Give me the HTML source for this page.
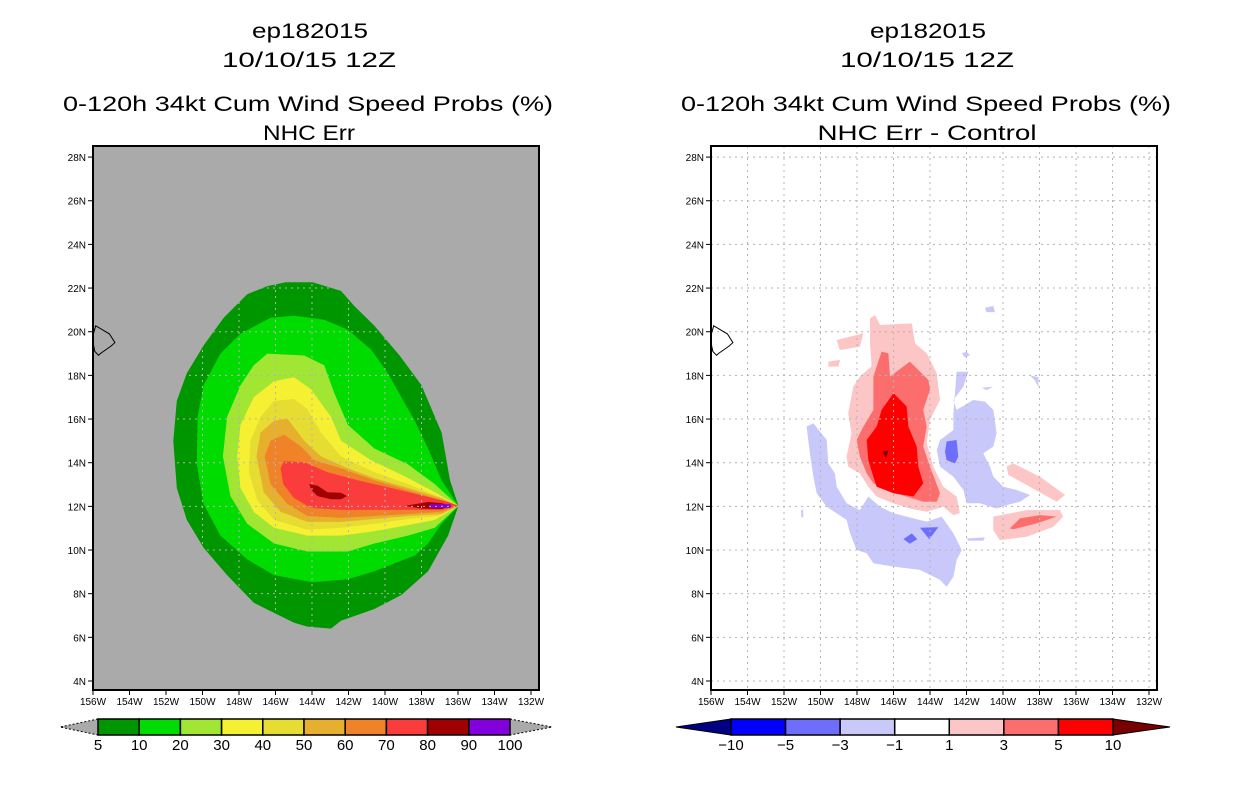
<!DOCTYPE html>
<html><head><meta charset="utf-8"><style>
html,body{margin:0;padding:0;background:#fff;}
svg{display:block;font-family:"Liberation Sans",sans-serif;}
</style></head><body>
<svg id="fig" width="1236" height="800" viewBox="0 0 1236 800">
<defs>
<clipPath id="clipL"><rect x="93" y="146" width="446" height="544"/></clipPath>
<clipPath id="clipR"><rect x="711" y="146" width="446" height="544"/></clipPath>
</defs>
<g font-size="21" text-anchor="middle" fill="#000">
<text x="310" y="38" textLength="116" lengthAdjust="spacingAndGlyphs">ep182015</text>
<text x="309" y="67" textLength="174" lengthAdjust="spacingAndGlyphs">10/10/15 12Z</text>
<text x="308" y="111" textLength="490" lengthAdjust="spacingAndGlyphs">0-120h 34kt Cum Wind Speed Probs (%)</text>
<text x="309" y="140" textLength="92" lengthAdjust="spacingAndGlyphs">NHC Err</text>
</g>
<g font-size="21" text-anchor="middle" fill="#000">
<text x="928" y="38" textLength="116" lengthAdjust="spacingAndGlyphs">ep182015</text>
<text x="927" y="67" textLength="174" lengthAdjust="spacingAndGlyphs">10/10/15 12Z</text>
<text x="926" y="111" textLength="490" lengthAdjust="spacingAndGlyphs">0-120h 34kt Cum Wind Speed Probs (%)</text>
<text x="927" y="140" textLength="219" lengthAdjust="spacingAndGlyphs">NHC Err - Control</text>
</g>
<g id="left"></g>
<g id="right"></g>
<g id="cbars"></g>
</svg>
<script>
// ---- data ----
const lonTicks=[156,154,152,150,148,146,144,142,140,138,136,134,132];
const latTicks=[4,6,8,10,12,14,16,18,20,22,24,26,28];
const leftLevels=[5,10,20,30,40,50,60,70,80,90,100];
const leftColors=["#009600","#00dc00","#a0e632","#f6f032","#e6dc32","#e6af2d","#f08228","#fa3c3c","#a00000","#8200dc"];
const rightLevels=[-10,-5,-3,-1,1,3,5,10];
const rightColors=["#0000ff","#6e6efc","#c8c8fa","#ffffff","#fcc6c6","#fc6e6e","#ff0000"];
const hawaii=[[-155.85,20.27],[-155.7,20.2],[-155.1,19.9],[-154.8,19.5],[-155.0,19.35],[-155.6,19.0],[-155.7,18.92],[-155.9,19.1],[-156.05,19.7]];
const prob5=[[-145.44,22.27],[-143.97,22.27],[-142.41,21.87],[-141.68,21.18],[-140.58,20.27],[-139.2,18.91],[-138.0,17.55],[-136.9,15.38],[-136.44,13.2],[-135.98,12.02],[-136.54,10.66],[-137.64,9.03],[-139.1,7.94],[-140.58,7.3],[-142.41,6.76],[-142.96,6.4],[-144.25,6.49],[-144.98,6.67],[-146.08,7.12],[-147.19,7.58],[-148.65,8.85],[-149.94,10.1],[-150.86,11.38],[-151.41,12.84],[-151.6,15.0],[-151.41,16.83],[-150.86,18.1],[-149.94,19.37],[-148.84,20.64],[-147.55,21.72],[-146.45,22.09]];
const prob10=[[-146.27,20.64],[-144.98,20.73],[-143.33,20.55],[-142.04,20.09],[-140.76,19.18],[-139.84,18.1],[-139.1,17.0],[-138.37,15.92],[-137.64,14.65],[-136.9,13.2],[-135.98,12.02],[-136.9,11.2],[-137.64,10.3],[-138.37,9.75],[-140.58,9.03],[-142.04,8.66],[-143.97,8.52],[-146.08,8.85],[-147.55,9.57],[-149.02,10.66],[-149.94,12.11],[-150.31,13.92],[-150.27,16.1],[-149.94,17.55],[-149.02,19.0],[-147.92,19.91]];
const prob20=[[-146.45,19.0],[-144.43,18.91],[-143.33,18.46],[-142.78,17.19],[-142.04,15.74],[-140.58,14.65],[-138.74,13.92],[-137.27,13.02],[-135.98,12.02],[-137.27,11.02],[-138.74,10.66],[-140.58,10.3],[-142.04,9.93],[-144.25,9.93],[-146.08,10.3],[-147.55,11.2],[-148.47,12.47],[-148.88,14.29],[-148.65,16.1],[-147.92,17.55],[-147.19,18.46]];
const prob30=[[-146.08,17.73],[-144.98,17.91],[-144.06,17.37],[-142.96,16.1],[-142.41,15.01],[-140.76,14.11],[-138.92,13.38],[-137.27,12.65],[-135.98,12.02],[-137.27,11.38],[-138.92,11.11],[-140.76,10.84],[-142.41,10.66],[-144.25,10.66],[-146.08,11.02],[-147.19,11.75],[-147.92,12.84],[-148.1,14.29],[-147.92,15.74],[-147.19,17.0]];
const prob40=[[-146.08,16.83],[-144.98,16.92],[-144.25,16.46],[-143.51,15.38],[-142.41,14.29],[-140.58,13.56],[-138.74,13.02],[-137.09,12.47],[-135.98,12.02],[-137.09,11.56],[-138.74,11.42],[-140.58,11.2],[-142.41,11.02],[-144.25,10.93],[-146.08,11.38],[-147.0,12.29],[-147.46,13.56],[-147.37,15.01],[-146.82,16.1]];
const prob50=[[-146.08,15.92],[-145.35,16.01],[-144.43,15.01],[-143.51,14.29],[-142.04,13.74],[-140.58,13.29],[-138.74,12.84],[-136.9,12.38],[-135.98,12.02],[-136.9,11.65],[-138.74,11.56],[-140.58,11.42],[-142.41,11.29],[-144.25,11.29],[-145.72,11.75],[-146.64,12.65],[-147.04,14.29],[-146.82,15.38]];
const prob60=[[-145.53,15.28],[-144.61,14.74],[-143.88,14.11],[-142.41,13.74],[-140.58,13.2],[-138.74,12.74],[-136.9,12.29],[-135.98,12.02],[-136.9,11.75],[-138.74,11.65],[-140.58,11.56],[-142.41,11.47],[-144.25,11.56],[-145.35,12.11],[-146.27,13.02],[-146.6,14.29],[-146.27,15.01]];
const prob70=[[-145.53,14.07],[-144.43,14.02],[-143.15,13.56],[-141.5,13.2],[-139.66,12.84],[-137.82,12.47],[-136.54,12.2],[-135.98,12.02],[-136.9,11.84],[-138.74,11.84],[-140.58,11.84],[-142.41,11.84],[-144.06,11.93],[-144.98,12.38],[-145.57,13.02],[-145.72,13.74]];
const prob80a=[[-144.16,13.02],[-143.7,12.95],[-143.15,12.65],[-142.41,12.62],[-142.08,12.47],[-142.41,12.33],[-142.96,12.33],[-143.7,12.47],[-144.03,12.75]];
const prob80b=[[-138.92,12.02],[-137.64,12.2],[-136.9,12.15],[-136.35,12.02],[-136.9,11.88],[-138.0,11.9]];
const prob90=[[-137.55,12.1],[-136.4,12.1],[-136.4,11.93],[-137.55,11.93]];
const diffPink=[[-147.29,20.61],[-147.01,20.76],[-146.74,20.31],[-145.0,20.38],[-144.82,19.47],[-144.18,19.01],[-143.63,18.1],[-143.45,16.87],[-144.0,15.96],[-144.18,14.89],[-143.82,13.82],[-143.27,12.9],[-142.54,12.45],[-142.36,11.69],[-142.72,11.6],[-143.27,11.98],[-144.18,11.75],[-145.1,11.9],[-146.0,12.13],[-146.92,12.45],[-147.38,12.9],[-147.84,13.51],[-148.48,13.82],[-148.57,14.28],[-148.3,15.35],[-148.48,16.26],[-148.2,17.49],[-147.84,17.95],[-147.2,18.41],[-147.29,19.47]];
const diffPink2=[[-149.11,19.62],[-147.65,19.93],[-147.84,19.32],[-148.94,19.16]];
const diffPink3=[[-149.57,18.63],[-148.93,18.71],[-149.02,18.4],[-149.57,18.4]];
const diffPink4=[[-139.8,13.82],[-139.43,13.97],[-137.97,13.36],[-136.6,12.52],[-137.06,12.21],[-138.7,12.98],[-139.71,13.44]];
const diffPink5=[[-140.53,11.53],[-138.7,11.83],[-136.88,11.83],[-136.7,11.53],[-137.24,11.07],[-138.7,10.61],[-140.17,10.45],[-140.53,10.91]];
const diffMed=[[-147.1,17.95],[-146.65,19.09],[-146.28,19.01],[-146.19,17.95],[-145.1,18.63],[-144.09,17.79],[-144.0,17.34],[-144.37,16.42],[-144.18,15.66],[-144.37,14.74],[-144.0,13.82],[-143.45,12.6],[-143.63,12.21],[-144.37,12.21],[-145.28,12.45],[-146.19,12.67],[-147.1,13.05],[-147.47,13.51],[-147.84,14.28],[-148.02,15.04],[-147.65,15.66],[-147.1,16.42],[-147.1,17.19]];
const diffMed2=[[-139.62,10.99],[-139.07,11.45],[-137.97,11.6],[-137.06,11.53],[-138.16,11.22],[-139.44,10.95]];
const diffRed=[[-146.0,17.19],[-145.28,16.58],[-145.19,15.66],[-144.73,14.74],[-144.64,13.82],[-144.37,13.05],[-144.91,12.45],[-146.0,12.6],[-146.92,12.9],[-147.1,13.36],[-147.38,14.12],[-147.47,15.04],[-146.92,15.66],[-146.65,16.42]];
const diffDark=[[-146.59,14.5],[-146.28,14.58],[-146.41,14.2]];
const diffBlueA=[[-150.76,15.66],[-150.39,15.81],[-149.66,15.04],[-149.57,13.97],[-149.21,13.51],[-149.11,12.9],[-148.57,12.14],[-147.84,11.83],[-147.38,12.45],[-146.74,11.98],[-146.0,11.68],[-144.91,11.45],[-144.18,11.3],[-143.36,11.53],[-142.72,10.76],[-142.26,10.0],[-142.54,9.54],[-142.72,8.78],[-143.09,8.32],[-143.45,8.63],[-144.55,9.09],[-146.0,9.24],[-147.1,9.39],[-147.47,9.85],[-148.02,10.0],[-148.38,10.76],[-148.57,11.38],[-149.66,11.98],[-150.21,12.6],[-150.39,13.36],[-150.58,14.43]];
const diffBlueB=[[-142.54,18.17],[-141.9,18.17],[-142.17,17.49],[-142.72,16.87],[-142.54,16.42],[-141.63,16.87],[-140.99,16.8],[-140.53,16.42],[-140.35,15.35],[-140.53,14.74],[-141.08,14.43],[-140.71,13.82],[-140.53,13.36],[-139.98,12.9],[-139.25,12.75],[-138.52,12.52],[-139.07,12.21],[-139.8,12.06],[-140.35,11.9],[-141.26,12.14],[-141.99,12.14],[-142.17,12.75],[-142.72,13.36],[-143.45,13.82],[-143.63,14.58],[-143.45,15.04],[-142.72,15.5],[-142.72,16.26]];
const diffBlueC=[[-141.17,17.43],[-140.53,17.48],[-140.9,17.33]];
const diffBlueD=[[-142.26,19.01],[-141.99,19.09],[-141.81,18.93],[-142.08,18.82]];
const diffBlueE=[[-140.99,21.1],[-140.53,21.18],[-140.44,20.9],[-140.9,20.9]];
const diffBlueF=[[-138.52,18.0],[-138.06,17.92],[-138.06,17.46],[-138.25,17.77]];
const diffBlueG=[[-141.99,10.53],[-140.99,10.58],[-141.08,10.43],[-141.9,10.43]];
const diffBlueH=[[-151.05,11.85],[-150.95,11.85],[-150.95,11.5],[-151.05,11.5]];
const diffMedBlue1=[[-143.09,14.97],[-142.54,15.04],[-142.45,14.28],[-142.63,13.97],[-143.09,14.12],[-143.18,14.5]];
const diffMedBlue2=[[-145.46,10.5],[-145.0,10.76],[-144.69,10.5],[-145.1,10.29]];
const diffMedBlue3=[[-144.55,11.02],[-143.54,11.05],[-144.04,10.49]];

// ---- rendering ----
const NS="http://www.w3.org/2000/svg";
function mk(tag,attrs,parent){const e=document.createElementNS(NS,tag);for(const k in attrs)e.setAttribute(k,attrs[k]);parent.appendChild(e);return e;}
function xOf(lon,off){return 93+off+(lon+156)*18.25;}
function yOf(lat){return 681-(lat-4)*21.83;}
function ptsStr(p,off){return p.map(q=>xOf(q[0],off).toFixed(1)+","+yOf(q[1]).toFixed(1)).join(" ");}

function poly(g,p,off,fill,name){
  const e=mk("polygon",{points:ptsStr(p,off),fill:fill},g);
  
  
  return e;
}
function gridlines(g,off,clip){
  const gg=mk("g",{stroke:"#b4b4b4","stroke-width":1,"stroke-dasharray":"2,4"},g);
  if(clip) gg.setAttribute("clip-path","url(#"+clip+")");
  
  
  lonTicks.forEach(l=>{const x=xOf(-l,off);mk("line",{x1:x,x2:x,y1:146,y2:690},gg);});
  latTicks.forEach(l=>{const y=yOf(l);mk("line",{x1:93+off,x2:539+off,y1:y,y2:y},gg);});
}
function axes(g,off){
  const ax=mk("g",{},g);
  
  
  lonTicks.forEach(l=>{const x=xOf(-l,off);
    mk("line",{x1:x,x2:x,y1:690,y2:695,stroke:"#000","stroke-width":1},ax);
    const t=mk("text",{x:x,y:705,"font-size":10,"text-anchor":"middle"},ax);t.textContent=l+"W";
    
    });
  latTicks.forEach(l=>{const y=yOf(l);
    mk("line",{x1:88+off,x2:93+off,y1:y,y2:y,stroke:"#000","stroke-width":1},ax);
    const t=mk("text",{x:86+off,y:y+4,"font-size":10,"text-anchor":"end"},ax);t.textContent=l+"N";
    
    });
  const f=mk("rect",{x:93+off,y:146,width:446,height:544,fill:"none",stroke:"#000","stroke-width":2},ax);
  
  
}
function coast(g,off,clip){
  const c=mk("polygon",{points:ptsStr(hawaii,off),fill:"none",stroke:"#000","stroke-width":1,"clip-path":"url(#"+clip+")"},g);
  
  
}

// left map
const gl=document.getElementById("left");
const bg=mk("rect",{x:93,y:146,width:446,height:544,fill:"#aaaaaa"},gl);


const leftSeries=[prob5,prob10,prob20,prob30,prob40,prob50,prob60,prob70];
leftSeries.forEach((p,i)=>poly(gl,p,0,leftColors[i],"prob-"+leftLevels[i]+"-contour"));
poly(gl,prob80a,0,leftColors[8],"prob-80-contour");
poly(gl,prob80b,0,leftColors[8],"prob-80-contour");
poly(gl,prob90,0,leftColors[9],"prob-90-contour");
// grid only over shaded area
const cp=mk("clipPath",{id:"clipShade"},document.querySelector("defs"));
mk("polygon",{points:ptsStr(prob5,0)},cp);
gridlines(gl,0,"clipShade");
coast(gl,0,"clipL");
axes(gl,0);

// right map
const gr=document.getElementById("right");
const OFF=618;
const rbg=mk("rect",{x:711,y:146,width:446,height:544,fill:"#fff"},gr);


[diffBlueA,diffBlueB,diffBlueC,diffBlueD,diffBlueE,diffBlueF,diffBlueG,diffBlueH].forEach(p=>poly(gr,p,OFF,rightColors[2],"diff-neg1-contour"));
[diffMedBlue1,diffMedBlue2,diffMedBlue3].forEach(p=>poly(gr,p,OFF,rightColors[1],"diff-neg3-contour"));
[diffPink,diffPink2,diffPink3,diffPink4,diffPink5].forEach(p=>poly(gr,p,OFF,rightColors[4],"diff-pos1-contour"));
[diffMed,diffMed2].forEach(p=>poly(gr,p,OFF,rightColors[5],"diff-pos3-contour"));
poly(gr,diffRed,OFF,rightColors[6],"diff-pos5-contour");
poly(gr,diffDark,OFF,"#780000","diff-pos10-contour");
gridlines(gr,OFF,"clipR");
coast(gr,OFF,"clipR");
axes(gr,OFF);

// colorbars
const cb=document.getElementById("cbars");
function colorbar(x0,x1,triL,triR,levels,colors,lcol,rcol,dashedTri,name){
  const g=mk("g",{},cb);
  
  
  const y0=719,y1=735,ym=727,n=colors.length,w=(x1-x0)/n;
  const tl=mk("polygon",{points:`${x0},${y0} ${triL},${ym} ${x0},${y1}`,fill:lcol,stroke:"#000","stroke-width":1,"stroke-dasharray":dashedTri?"2,2":"none"},g);
  
  
  const tr=mk("polygon",{points:`${x1},${y0} ${triR},${ym} ${x1},${y1}`,fill:rcol,stroke:"#000","stroke-width":1,"stroke-dasharray":dashedTri?"2,2":"none"},g);
  
  
  colors.forEach((c,i)=>{const r=mk("rect",{x:x0+i*w,y:y0,width:w,height:y1-y0,fill:c,stroke:"#000","stroke-width":1.5},g);
    
    });
  levels.forEach((v,i)=>{const t=mk("text",{x:x0+i*w,y:750,"font-size":15,"text-anchor":"middle"},g);
    t.textContent=v<0?"\u2212"+(-v):String(v);
    
    });
}
colorbar(98,510,60,552,leftLevels,leftColors,"#aaaaaa","#aaaaaa",true,"left-colorbar");
colorbar(731,1113,676,1170,rightLevels,rightColors,"#000082","#780000",false,"right-colorbar");
</script>
</body></html>
